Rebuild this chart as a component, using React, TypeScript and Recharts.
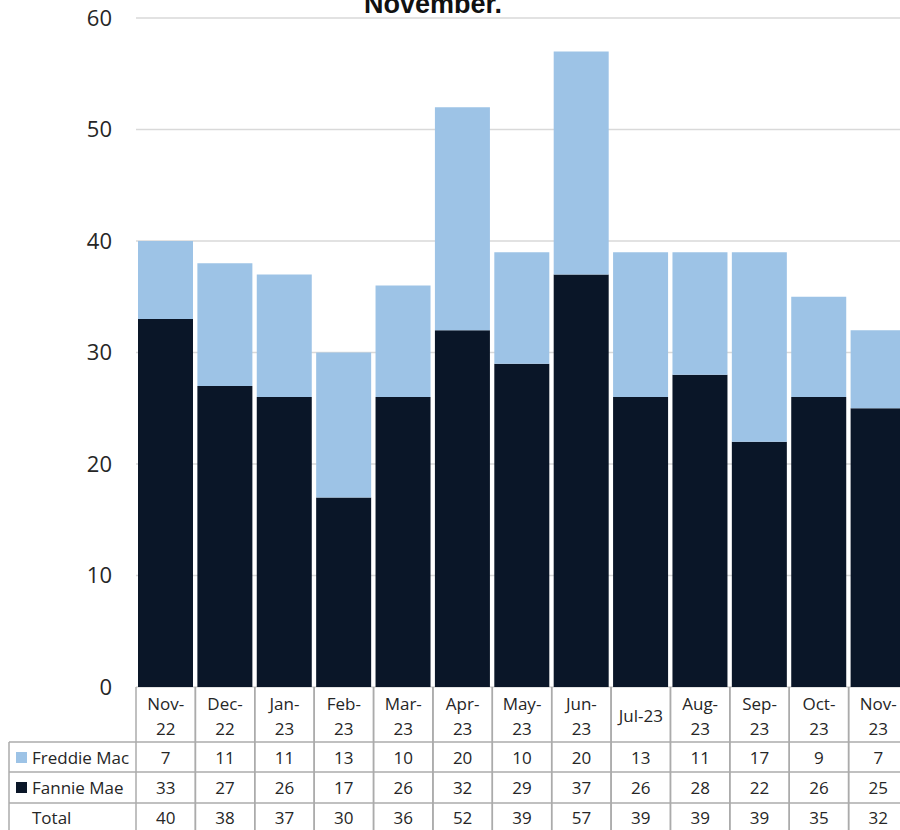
import { BarChart, Bar, XAxis, YAxis, CartesianGrid } from "recharts";

const months = ["Nov-22", "Dec-22", "Jan-23", "Feb-23", "Mar-23", "Apr-23", "May-23", "Jun-23", "Jul-23", "Aug-23", "Sep-23", "Oct-23", "Nov-23"];
// header labels as drawn in the table (wrapped like the original)
const monthLines = [["Nov-", "22"], ["Dec-", "22"], ["Jan-", "23"], ["Feb-", "23"], ["Mar-", "23"], ["Apr-", "23"], ["May-", "23"], ["Jun-", "23"], ["Jul-23"], ["Aug-", "23"], ["Sep-", "23"], ["Oct-", "23"], ["Nov-", "23"]];
const freddieMac = [7, 11, 11, 13, 10, 20, 10, 20, 13, 11, 17, 9, 7];
const fannieMae = [33, 27, 26, 17, 26, 32, 29, 37, 26, 28, 22, 26, 25];
const yTicks = [0, 10, 20, 30, 40, 50, 60];

const FREDDIE = "#9dc3e6";
const FANNIE = "#0a1628";
const BORDER = "#ababab";
const TEXT = "#262626";
const FONT = "'Open Sans', sans-serif";

const CHART_W = 910;
const CHART_H = 830;
const Y_AXIS_W = 136;
const MARGIN = { top: 18, right: 2, left: 0, bottom: 0 };
const TABLE_H = 143;
const BAND = (CHART_W - Y_AXIS_W - MARGIN.left - MARGIN.right) / months.length;
const LEFT_COL = 127;

const data = months.map((m, i) => ({
  month: m,
  freddie: freddieMac[i],
  fannie: fannieMae[i],
  total: freddieMac[i] + fannieMae[i],
}));

// row boundaries relative to the x axis top
const ROW_HEADER = 55;
const ROW_1 = 85;
const ROW_2 = 116;

function TableTick(props: any) {
  const { x, y, payload } = props;
  const i = payload.index;
  const d = data[i];
  const left = x - BAND / 2;
  const right = x + BAND / 2;
  const lines = monthLines[i];
  const txt = { fill: TEXT, fontSize: 17, fontFamily: FONT, textAnchor: "middle" as const, dominantBaseline: "central" as const };
  return (
    <g>
      <line x1={left} x2={left} y1={y} y2={y + TABLE_H} stroke={BORDER} strokeWidth={1.5} />
      <line x1={right} x2={right} y1={y} y2={y + TABLE_H} stroke={BORDER} strokeWidth={1.5} />
      <line x1={left} x2={right} y1={y + ROW_HEADER} y2={y + ROW_HEADER} stroke={BORDER} strokeWidth={1.5} />
      <line x1={left} x2={right} y1={y + ROW_1} y2={y + ROW_1} stroke={BORDER} strokeWidth={1.5} />
      <line x1={left} x2={right} y1={y + ROW_2} y2={y + ROW_2} stroke={BORDER} strokeWidth={1.5} />
      {lines.length === 2 ? (
        <>
          <text x={x} y={y + 16} {...txt}>{lines[0]}</text>
          <text x={x} y={y + 41} {...txt}>{lines[1]}</text>
        </>
      ) : (
        <text x={x} y={y + 28} {...txt}>{lines[0]}</text>
      )}
      <text x={x} y={y + 70} {...txt}>{d.freddie}</text>
      <text x={x} y={y + 100} {...txt}>{d.fannie}</text>
      <text x={x} y={y + 130} {...txt}>{d.total}</text>
      {i === 0 && (
        <g>
          <line x1={left - LEFT_COL} x2={left - LEFT_COL} y1={y + ROW_HEADER} y2={y + TABLE_H} stroke={BORDER} strokeWidth={1.5} />
          <line x1={left - LEFT_COL} x2={left} y1={y + ROW_HEADER} y2={y + ROW_HEADER} stroke={BORDER} strokeWidth={1.5} />
          <line x1={left - LEFT_COL} x2={left} y1={y + ROW_1} y2={y + ROW_1} stroke={BORDER} strokeWidth={1.5} />
          <line x1={left - LEFT_COL} x2={left} y1={y + ROW_2} y2={y + ROW_2} stroke={BORDER} strokeWidth={1.5} />
          <rect x={left - 120} y={y + 65} width={11} height={11} fill={FREDDIE} />
          <rect x={left - 120} y={y + 95} width={11} height={11} fill={FANNIE} />
          <text x={left - 104} y={y + 70} {...txt} textAnchor="start">Freddie Mac</text>
          <text x={left - 104} y={y + 100} {...txt} textAnchor="start">Fannie Mae</text>
          <text x={left - 104} y={y + 130} {...txt} textAnchor="start">Total</text>
        </g>
      )}
    </g>
  );
}

export default function App() {
  return (
    <div style={{ position: "absolute", left: 0, top: 0, width: 900, height: 830, overflow: "hidden", background: "#fff" }}>
      <div
        style={{
          position: "absolute",
          top: -9,
          left: 0,
          width: 866,
          textAlign: "center",
          fontFamily: "'Liberation Sans', Arial, sans-serif",
          fontWeight: "bold",
          fontSize: 27,
          lineHeight: "27px",
          color: "#111",
          zIndex: 2,
        }}
      >
        November.
      </div>
      <BarChart width={CHART_W} height={CHART_H} data={data} margin={MARGIN} barCategoryGap={2}>
        <CartesianGrid vertical={false} stroke="#d9d9d9" strokeWidth={1.5} />
        <XAxis
          dataKey="month"
          height={TABLE_H}
          interval={0}
          tickSize={0}
          tickMargin={0}
          axisLine={false}
          tickLine={false}
          tick={<TableTick />}
        />
        <YAxis
          width={Y_AXIS_W}
          domain={[0, 60]}
          ticks={yTicks}
          interval={0}
          tickSize={0}
          tickMargin={24}
          axisLine={false}
          tickLine={false}
          tick={{ fill: TEXT, fontSize: 22, fontFamily: FONT }}
        />
        <Bar dataKey="fannie" name="Fannie Mae" stackId="a" fill={FANNIE} isAnimationActive={false} />
        <Bar dataKey="freddie" name="Freddie Mac" stackId="a" fill={FREDDIE} isAnimationActive={false} />
      </BarChart>
    </div>
  );
}
